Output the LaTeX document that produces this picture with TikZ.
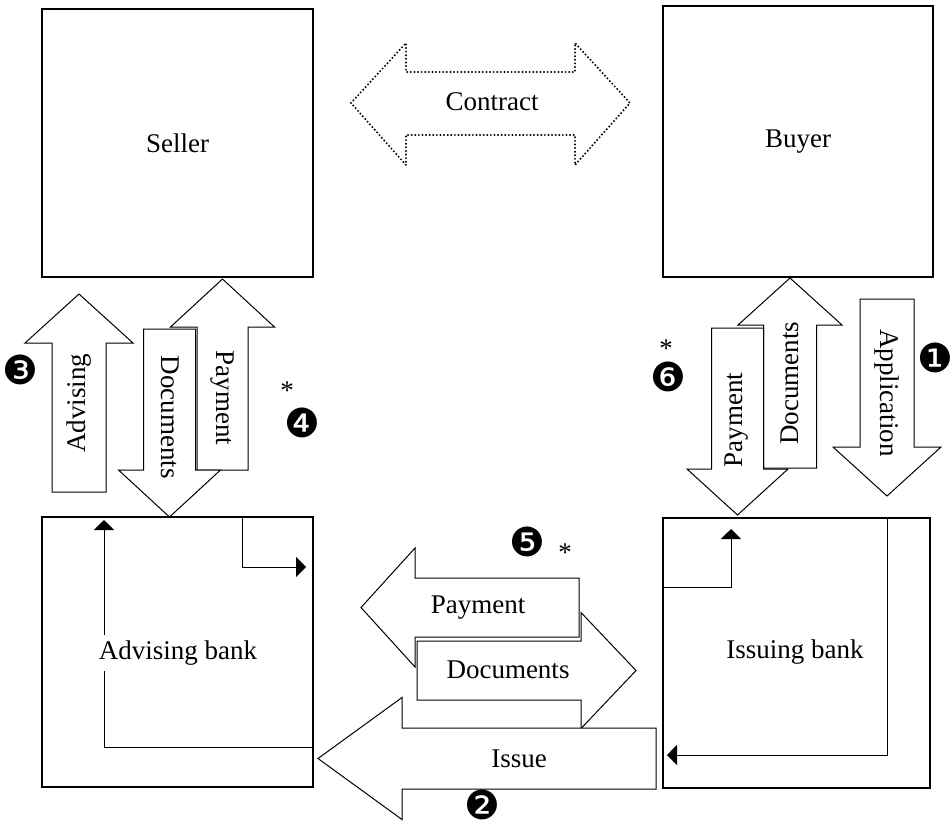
\documentclass[tikz,border=0pt]{standalone}
\usepackage{fontspec}
\setmainfont{Liberation Serif}
\newfontfamily\dingfont{DejaVu Sans}
\usetikzlibrary{arrows.meta}

\tikzset{
  party/.style={draw, line width=0.6pt, inner sep=0pt},
  bigarrow/.style={draw, fill=white, line width=0.5pt},
  flow/.style={line width=0.5pt, -{Triangle[length=5pt,width=10pt]}},
  stepmark/.style={font=\dingfont\fontsize{20}{20}\selectfont, inner sep=0pt},
  starmark/.style={anchor=north, inner sep=0pt}
}
% tip x, tip y, head base, head half width, shaft half width, tail
\newcommand{\vblock}[6]{%
  \filldraw[bigarrow] (#1,#2) -- ({#1+#4},#3) -- ({#1+#5},#3) -- ({#1+#5},#6) -- ({#1-#5},#6) -- ({#1-#5},#3) -- ({#1-#4},#3) -- cycle;}
\newcommand{\hblock}[6]{%
  \filldraw[bigarrow] (#1,#2) -- (#3,{#2-#4}) -- (#3,{#2-#5}) -- (#6,{#2-#5}) -- (#6,{#2+#5}) -- (#3,{#2+#5}) -- (#3,{#2+#4}) -- cycle;}

\begin{document}
\begin{tikzpicture}[x=0.5pt, y=-0.5pt, every node/.append style={font=\fontsize{13.5}{15}\selectfont}]
        \useasboundingbox (0,0) rectangle (951,826);

        \node[party, minimum width=135.5pt, minimum height=134pt] (seller) at (177.5,143) {Seller};
        \node[party, minimum width=135pt, minimum height=135.5pt] (buyer) at (798,141.5) {Buyer};
        \node[party, minimum width=135.5pt, minimum height=135pt] (advbank) at (177.5,652) {};
        \node[party, minimum width=133.5pt, minimum height=135pt] (issbank) at (796.5,653) {};

        % contract
        \draw[line width=1.1pt, dash pattern=on 0pt off 1.8pt, line cap=round] (351,103) -- (406,43) -- (406,72) -- (575,72) -- (575,43) -- (630,103) -- (575,165) -- (575,135) -- (406,135) -- (406,165) -- cycle;
        \node (contract) at (492,102) {Contract};

        % seller side
        \vblock{79}{294}{343}{54}{27}{492}
        \vblock{222.5}{279}{327}{52}{25.5}{470}
        \vblock{169.5}{517}{470}{51}{26}{329}
        \node[rotate=90] (advising) at (79,403) {Advising};
        \node[rotate=-90] (sdocs) at (170,417) {Documents};
        \node[rotate=-90] (spay) at (222,398) {Payment};

        % buyer side
        \vblock{790}{278}{325}{52}{26.5}{468}
        \vblock{737.5}{515}{469}{50.5}{26}{328}
        \vblock{887}{496}{447}{54}{27}{299}
        \node[rotate=90] (bdocs) at (790,383) {Documents};
        \node[rotate=90] (bpay) at (737,420) {Payment};
        \node[rotate=-90] (application) at (887,393) {Application};

        % between the banks
        \hblock{361}{607.5}{415}{59.5}{29.5}{579}
        \hblock{636}{670.5}{581}{58}{29.5}{417}
        \hblock{318}{758.5}{402}{61}{30.5}{656}
        \node (kpay) at (478,608) {Payment};
        \node (kdocs) at (508,670) {Documents};
        \node (issue) at (519,759) {Issue};

        % inside the banks
        \draw[flow] (advbank.east |- 0,747) -| (104,520);
        \draw[flow] (advbank.north -| 242,0) |- (306,567);
        \draw[flow] (issbank.west |- 0,587) -| (731,529);
        \draw[flow] (issbank.north -| 887,0) |- (667,755);
        \node[fill=white, inner sep=3pt] (advname) at (178,653) {Advising bank};
        \node (issname) at (795,652) {Issuing bank};

        \node[stepmark] (m1) at (935,358) {❶};
        \node[stepmark] (m2) at (482,805) {❷};
        \node[stepmark] (m3) at (20,370) {❸};
        \node[stepmark] (m4) at (302,423) {❹};
        \node[stepmark] (m5) at (527,542) {❺};
        \node[stepmark] (m6) at (668,377) {❻};
        \node[starmark] (s4) at (287,381) {*};
        \node[starmark] (s5) at (565,543) {*};
        \node[starmark] (s6) at (666,339) {*};
    \end{tikzpicture}
\end{document}
